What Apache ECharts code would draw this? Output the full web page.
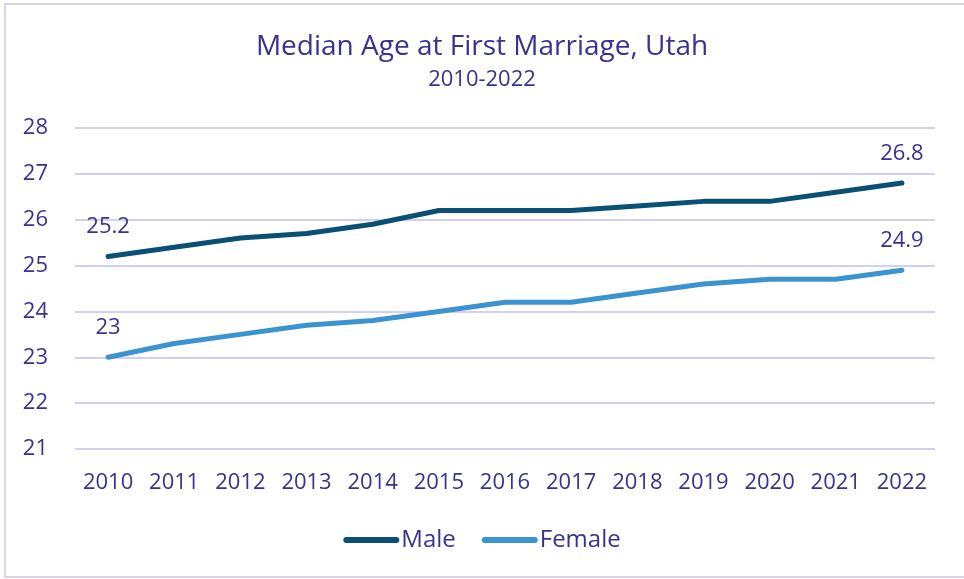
<!DOCTYPE html>
<html>
<head>
<meta charset="utf-8">
<script src="https://cdn.jsdelivr.net/npm/echarts@6/dist/echarts.min.js"></script>
<style>
  html, body { margin: 0; padding: 0; background: #fff; }
  #chart { width: 964px; height: 579px; }
</style>
</head>
<body>
<div id="chart"></div>
<script>
const years = ['2010', '2011', '2012', '2013', '2014', '2015', '2016', '2017', '2018', '2019', '2020', '2021', '2022'];
const maleAge = [25.2, 25.4, 25.6, 25.7, 25.9, 26.2, 26.2, 26.2, 26.3, 26.4, 26.4, 26.6, 26.8];
const femaleAge = [23.0, 23.3, 23.5, 23.7, 23.8, 24.0, 24.2, 24.2, 24.4, 24.6, 24.7, 24.7, 24.9];

const textColor = '#38338f';
const fontName = 'Open Sans';

// only first and last point get a label
function withEndLabels(values) {
  return values.map((v, i) => {
    if (i === 0 || i === values.length - 1) {
      return { value: v, label: { show: true } };
    }
    return v;
  });
}

const legendIcon = 'path://M3,0 H53 A3,3 0 0 1 53,6 H3 A3,3 0 0 1 3,0 Z';

let chartDom = document.getElementById('chart');
let myChart = echarts.init(chartDom);

let option = {
  animation: false,
  title: {
    text: 'Median Age at First Marriage, Utah',
    subtext: '2010-2022',
    left: 'center',
    top: 28,
    itemGap: 8,
    textStyle: { color: textColor, fontFamily: fontName, fontSize: 28, fontWeight: 'normal' },
    subtextStyle: { color: textColor, fontFamily: fontName, fontSize: 22 }
  },
  graphic: [{
    type: 'rect',
    shape: { x: 5, y: 4, width: 975, height: 573 },
    style: { fill: 'none', stroke: '#d6d3ee', lineWidth: 2 },
    silent: true
  }],
  legend: {
    bottom: 22,
    left: 'center',
    icon: legendIcon,
    itemWidth: 56,
    itemHeight: 6,
    itemGap: 26,
    textStyle: { color: textColor, fontFamily: fontName, fontSize: 24, padding: [0, 0, 0, -3] },
    data: ['Male', 'Female']
  },
  grid: {
    left: 75,
    right: 29,
    top: 128,
    bottom: 130
  },
  xAxis: {
    type: 'category',
    data: years,
    boundaryGap: true,
    axisLine: { show: false },
    axisTick: { show: false },
    axisLabel: { color: textColor, fontFamily: fontName, fontSize: 22, margin: 23 }
  },
  yAxis: {
    type: 'value',
    min: 21,
    max: 28,
    interval: 1,
    axisLine: { show: false },
    axisTick: { show: false },
    axisLabel: { color: textColor, fontFamily: fontName, fontSize: 22, margin: 27 },
    splitLine: { lineStyle: { color: '#d3d0ee', width: 2 } }
  },
  series: [
    {
      name: 'Male',
      type: 'line',
      data: withEndLabels(maleAge),
      symbol: 'circle',
      symbolSize: 1,
      itemStyle: { color: '#0a5074' },
      lineStyle: { color: '#0a5074', width: 5, cap: 'round', join: 'round' },
      label: {
        show: false,
        position: 'top',
        distance: 18,
        color: textColor,
        fontFamily: fontName,
        fontSize: 22
      }
    },
    {
      name: 'Female',
      type: 'line',
      data: withEndLabels(femaleAge),
      symbol: 'circle',
      symbolSize: 1,
      itemStyle: { color: '#3b94d0' },
      lineStyle: { color: '#3b94d0', width: 5, cap: 'round', join: 'round' },
      label: {
        show: false,
        position: 'top',
        distance: 18,
        color: textColor,
        fontFamily: fontName,
        fontSize: 22
      }
    }
  ]
};
option && myChart.setOption(option);
</script>
</body>
</html>
